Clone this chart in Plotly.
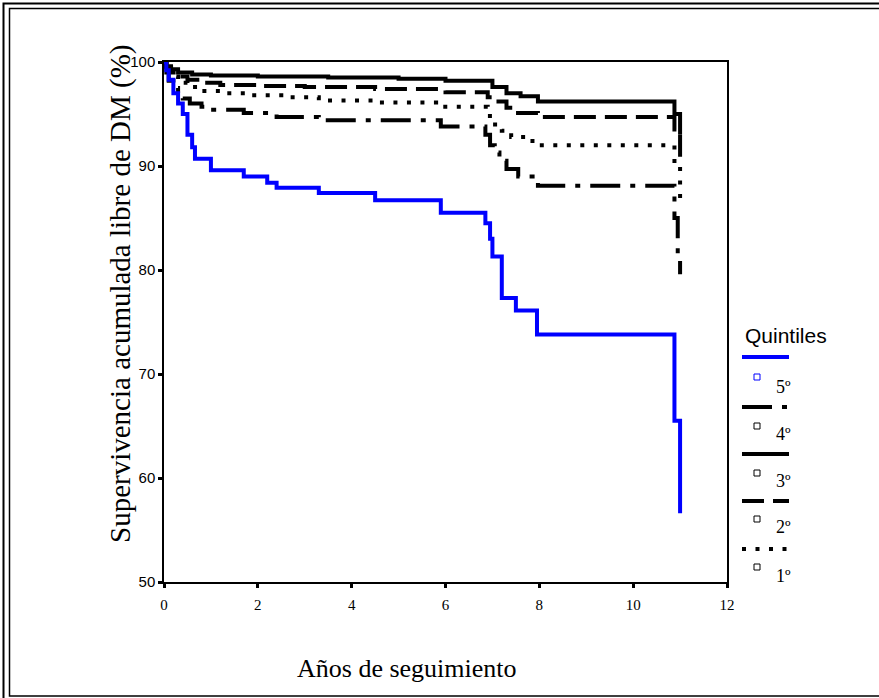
import plotly.graph_objects as go

# ---------------- data ----------------
t_q5 = [0, 0.05, 0.1, 0.2, 0.3, 0.4, 0.5, 0.6, 0.66, 1.0, 1.7, 2.2, 2.4, 3.3, 4.5, 5.9,
        6.85, 6.95, 7.0, 7.2, 7.5, 7.95, 10.88, 11.0]
s_q5 = [100, 99.2, 98.3, 97.0, 96.0, 95.0, 93.0, 91.8, 90.7, 89.6, 89.0, 88.4, 87.9, 87.4, 86.7, 85.5,
        84.5, 83.0, 81.3, 77.3, 76.1, 73.8, 65.5, 56.6]

t_q4 = [0, 0.05, 0.1, 0.2, 0.3, 0.4, 0.55, 0.8, 1.0, 1.7, 2.4, 3.3, 5.9, 6.85, 6.95, 7.05,
        7.15, 7.3, 7.55, 7.97, 10.88, 10.95, 11.0]
s_q4 = [100, 99.0, 98.2, 97.5, 97.0, 96.5, 96.0, 95.7, 95.4, 95.1, 94.7, 94.4, 93.8, 93.0, 92.0, 91.3,
        90.5, 89.7, 89.0, 88.1, 85.0, 81.0, 79.6]

t_q3 = [0, 0.05, 0.15, 0.3, 0.6, 1.0, 2.0, 3.5, 5.0, 6.0, 7.0, 7.3, 7.6, 7.97, 10.88, 11.0]
s_q3 = [100, 99.6, 99.3, 99.0, 98.8, 98.7, 98.6, 98.5, 98.4, 98.2, 97.6, 97.0, 96.7, 96.2, 95.0, 93.0]

t_q2 = [0, 0.05, 0.15, 0.3, 0.5, 0.8, 1.2, 2.0, 3.0, 4.5, 6.0, 6.9, 7.05, 7.3, 7.5, 7.97,
        10.88, 11.0]
s_q2 = [100, 99.5, 99.0, 98.6, 98.3, 98.0, 97.8, 97.7, 97.6, 97.4, 97.1, 96.6, 96.2, 95.6, 95.1, 94.7,
        93.5, 90.9]

t_q1 = [0, 0.05, 0.15, 0.3, 0.5, 0.8, 1.2, 1.8, 2.5, 3.3, 4.5, 5.8, 6.9, 7.0, 7.2, 7.4,
        7.7, 7.97, 10.88, 11.0]
s_q1 = [100, 99.3, 98.6, 98.0, 97.6, 97.2, 97.0, 96.8, 96.6, 96.3, 96.1, 95.7, 94.8, 94.0, 93.4, 92.8,
        92.4, 92.0, 90.0, 86.0]

series_labels = ["5º", "4º", "3º", "2º", "1º"]
x_ticks = [0, 2, 4, 6, 8, 10, 12]
y_ticks = [50, 60, 70, 80, 90, 100]

legend_title = "Quintiles"
x_title = "Años de seguimiento"
y_title = "Supervivencia acumulada libre de DM (%)"

# ---------------- layout helpers ----------------
W, H = 879, 698
L, R, T, B = 164, 727, 62, 582


def fx(p):
    return (p - L) / (R - L)


def fy(p):
    return (B - p) / (B - T)


styles = [
    dict(color="#0000ff", dash="solid"),
    dict(color="black", dash="30px,10px,5px,10px"),
    dict(color="black", dash="solid"),
    dict(color="black", dash="22px,9px"),
    dict(color="black", dash="4px,9.5px"),
]
data = [(t_q5, s_q5), (t_q4, s_q4), (t_q3, s_q3), (t_q2, s_q2), (t_q1, s_q1)]

fig = go.Figure()
for (t, s), st, name in zip(data[::-1], styles[::-1], series_labels[::-1]):
    fig.add_trace(go.Scatter(
        x=t, y=s, mode="lines", name=name, showlegend=False,
        line=dict(shape="hv", color=st["color"], dash=st["dash"], width=4),
        hoverinfo="skip"))

axis_common = dict(showline=True, linecolor="black", linewidth=1.5, mirror=True,
                   ticks="outside", ticklen=4, tickwidth=3, tickcolor="black",
                   showgrid=False, zeroline=False)

fig.update_layout(
    width=W, height=H,
    margin=dict(l=L, r=W - R, t=T, b=H - B, pad=0),
    paper_bgcolor="white", plot_bgcolor="white",
    xaxis=dict(range=[0, 12], tickvals=x_ticks, ticktext=[str(v) for v in x_ticks],
               tickfont=dict(family="Liberation Serif", size=15, color="black"),
               ticklabelstandoff=4, **axis_common),
    yaxis=dict(range=[50, 100], tickvals=y_ticks, ticktext=[str(v) for v in y_ticks],
               tickfont=dict(family="Liberation Sans", size=15, color="black"),
               **axis_common),
    showlegend=False,
)

shapes = []
# double frame around the whole picture
shapes.append(dict(type="rect", xref="paper", yref="paper",
                   x0=fx(3.5), x1=fx(900), y0=fy(3.5), y1=fy(720),
                   line=dict(color="black", width=2), fillcolor="rgba(0,0,0,0)"))
shapes.append(dict(type="rect", xref="paper", yref="paper",
                   x0=fx(9.5), x1=fx(895), y0=fy(8.5), y1=fy(696),
                   line=dict(color="black", width=1.5), fillcolor="rgba(0,0,0,0)"))

annotations = []
annotations.append(dict(text=y_title, xref="paper", yref="paper", x=fx(120), y=fy(294),
                        textangle=-90, showarrow=False, xanchor="center", yanchor="middle",
                        font=dict(family="Liberation Serif", size=29, color="black")))
annotations.append(dict(text=x_title, xref="paper", yref="paper", x=fx(407), y=fy(668),
                        showarrow=False, xanchor="center", yanchor="middle",
                        font=dict(family="Liberation Serif", size=26, color="black")))
annotations.append(dict(text=legend_title, xref="paper", yref="paper", x=fx(743), y=fy(335),
                        showarrow=False, xanchor="left", yanchor="middle",
                        font=dict(family="Liberation Sans", size=21, color="black")))

line_y = [357, 407, 454, 501, 549]
sq_y = [377, 426, 473, 519, 567]
lab_y = [387, 434, 481, 527, 576]
for st, name, ly, sy, ty in zip(styles, series_labels, line_y, sq_y, lab_y):
    shapes.append(dict(type="line", xref="paper", yref="paper",
                       x0=fx(742), x1=fx(789), y0=fy(ly), y1=fy(ly),
                       line=dict(color=st["color"], width=4, dash=st["dash"])))
    shapes.append(dict(type="rect", xref="paper", yref="paper",
                       x0=fx(754), x1=fx(760), y0=fy(sy - 3), y1=fy(sy + 3),
                       line=dict(color=st["color"], width=1), fillcolor="white"))
    annotations.append(dict(text=name, xref="paper", yref="paper", x=fx(774), y=fy(ty),
                            showarrow=False, xanchor="left", yanchor="middle",
                            font=dict(family="Liberation Serif", size=18, color="black")))

fig.update_layout(shapes=shapes, annotations=annotations)
fig.write_html("out.html", config={"displayModeBar": False},
               post_script="document.body.style.margin='0';document.body.style.overflow='hidden';")
